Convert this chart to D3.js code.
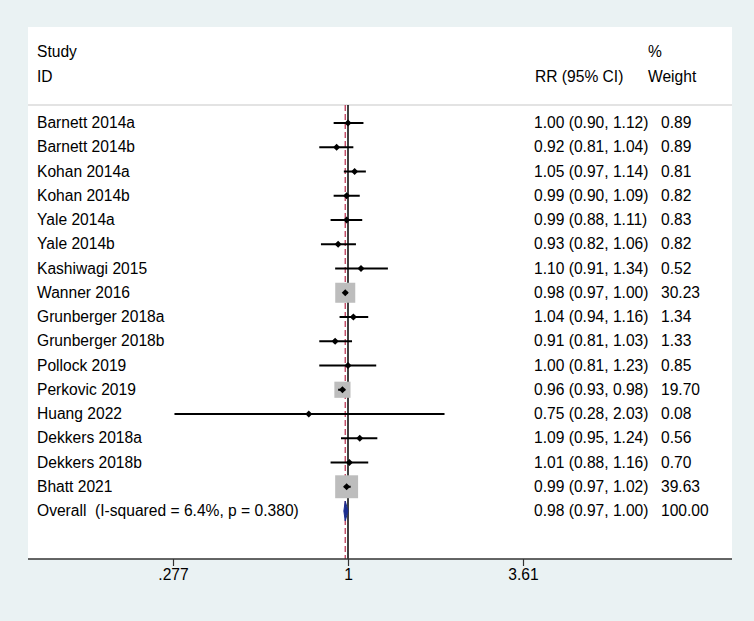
<!DOCTYPE html>
<html><head><meta charset="utf-8">
<script src="https://cdn.jsdelivr.net/npm/d3@7"></script>
<style>html,body{margin:0;padding:0;background:#eaf2f3;}svg{display:block;}text{white-space:pre;}</style>
</head><body>
<script>
const studies = ["Barnett 2014a","Barnett 2014b","Kohan 2014a","Kohan 2014b","Yale 2014a","Yale 2014b","Kashiwagi 2015","Wanner 2016","Grunberger 2018a","Grunberger 2018b","Pollock 2019","Perkovic 2019","Huang 2022","Dekkers 2018a","Dekkers 2018b","Bhatt 2021"];
const rr    = [1.00,0.92,1.05,0.99,0.99,0.93,1.10,0.98,1.04,0.91,1.00,0.96,0.75,1.09,1.01,0.99];
const lower = [0.90,0.81,0.97,0.90,0.88,0.82,0.91,0.97,0.94,0.81,0.81,0.93,0.28,0.95,0.88,0.97];
const upper = [1.12,1.04,1.14,1.09,1.11,1.06,1.34,1.00,1.16,1.03,1.23,0.98,2.03,1.24,1.16,1.02];
const weights = [0.89,0.89,0.81,0.82,0.83,0.82,0.52,30.23,1.34,1.33,0.85,19.70,0.08,0.56,0.70,39.63];
const overallLabel = "Overall  (I-squared = 6.4%, p = 0.380)";
const overall = {rr:0.98, lower:0.97, upper:1.00, weight:100.00};
const tickValues = [0.277, 1, 3.61];
const tickLabels = [".277","1","3.61"];

const W=754,H=621;
const svg=d3.select("body").append("svg").attr("width",W).attr("height",H);
const font="Liberation Sans, Arial, Helvetica, sans-serif";
svg.append("rect").attr("width",W).attr("height",H).attr("fill","#eaf2f3");
const panel={x0:28,x1:732,y0:27,y1:559};
svg.append("rect").attr("x",panel.x0).attr("y",panel.y0).attr("width",panel.x1-panel.x0).attr("height",panel.y1-panel.y0).attr("fill","#fff");

const x=d3.scaleLog().domain([0.277,3.61]).range([173,523]);
const rows=d3.range(studies.length+1);
const y=d3.scalePoint().domain(rows).range([123,511]);

const fs=15.6;
function txt(s,xx,yy,anchor){return svg.append("text").attr("x",xx).attr("y",yy).attr("xml:space","preserve").attr("font-family",font).attr("font-size",fs).attr("fill","#000").attr("text-anchor",anchor||"start").text(s);}
// header
txt("Study",37,57); txt("ID",37,82);
txt("RR (95% CI)",535,82); txt("%",648,57); txt("Weight",648,82);
svg.append("line").attr("x1",panel.x0).attr("x2",panel.x1).attr("y1",105).attr("y2",105).attr("stroke","#c8c8c8").attr("stroke-width",1.2);

// null line
svg.append("line").attr("x1",x(1)).attr("x2",x(1)).attr("y1",105).attr("y2",panel.y1).attr("stroke","#000").attr("stroke-width",1.5);
// overall dashed line
svg.append("line").attr("x1",x(overall.rr)).attr("x2",x(overall.rr)).attr("y1",105).attr("y2",panel.y1).attr("stroke","#bd3a58").attr("stroke-width",1.3).attr("stroke-dasharray","6,3");

const k=3.64;
studies.forEach((s,i)=>{
  const yy=y(i);
  const sz=k*Math.sqrt(weights[i]);
  svg.append("rect").attr("x",x(rr[i])-sz/2).attr("y",yy-sz/2).attr("width",sz).attr("height",sz).attr("fill","#bdbdbd");
  svg.append("line").attr("x1",x(lower[i])).attr("x2",x(upper[i])).attr("y1",yy).attr("y2",yy).attr("stroke","#000").attr("stroke-width",2);
  const cx=x(rr[i]);
  svg.append("path").attr("d",`M${cx-3.5},${yy}L${cx},${yy-3.5}L${cx+3.5},${yy}L${cx},${yy+3.5}Z`).attr("fill","#000");
  txt(s,37,yy+5);
  txt(`${rr[i].toFixed(2)} (${lower[i].toFixed(2)}, ${upper[i].toFixed(2)})`,534,yy+5);
  txt(weights[i].toFixed(2),661,yy+5);
});
// overall
const oy=y(studies.length);
svg.append("path").attr("d",`M${x(overall.lower)},${oy}L${x(overall.rr)},${oy-10}L${x(overall.upper)},${oy}L${x(overall.rr)},${oy+10}Z`).attr("fill","#1c2e8f").attr("stroke","#1c2e8f").attr("stroke-width",1);
txt(overallLabel,37,oy+5);
txt(`${overall.rr.toFixed(2)} (${overall.lower.toFixed(2)}, ${overall.upper.toFixed(2)})`,534,oy+5);
txt(overall.weight.toFixed(2),661,oy+5);

// axis
const axis=d3.axisBottom(x).tickValues(tickValues).tickFormat((d,i)=>tickLabels[i]).tickSize(7).tickPadding(3);
const g=svg.append("g").attr("transform",`translate(0,${panel.y1})`).call(axis);
g.select(".domain").remove();
g.append("line").attr("x1",panel.x0).attr("x2",panel.x1).attr("y1",0).attr("y2",0).attr("stroke","#333").attr("stroke-width",1.6);
g.selectAll(".tick line").attr("stroke","#333").attr("stroke-width",1.2);
g.selectAll(".tick text").attr("font-family",font).attr("font-size",fs).attr("fill","#000");
</script>
</body></html>
